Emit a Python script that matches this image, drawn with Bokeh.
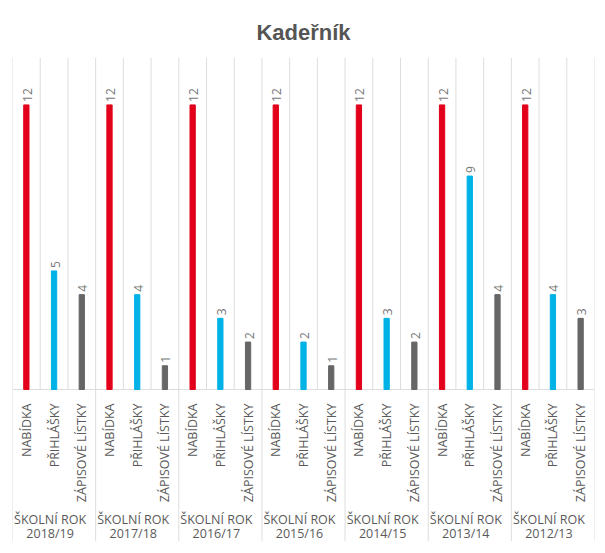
from math import pi
from bokeh.plotting import figure
from bokeh.models import FactorRange, ColumnDataSource, Range1d
from bokeh.core.properties import value
from bokeh.embed import file_html
from bokeh.resources import INLINE

title = "Kadeřník"
years = ["2018/19", "2017/18", "2016/17", "2015/16", "2014/15", "2013/14", "2012/13"]
categories = ["NABÍDKA", "PŘIHLÁŠKY", "ZÁPISOVÉ LÍSTKY"]
nabidka = [12, 12, 12, 12, 12, 12, 12]
prihlasky = [5, 4, 3, 2, 3, 9, 4]
zapisove = [4, 1, 2, 1, 2, 4, 3]
group_prefix = "ŠKOLNÍ ROK"
colors = ["#e2001a", "#00b2e6", "#666666"]

factors = [(y, c) for y in years for c in categories]
vals = []
cols = []
for i in range(len(years)):
    for j, series in enumerate([nabidka, prihlasky, zapisove]):
        vals.append(series[i])
        cols.append(colors[j])

ymin = -6.41
p = figure(x_range=FactorRange(*factors, factor_padding=0, group_padding=0, subgroup_padding=0, range_padding=0),
           y_range=Range1d(ymin, 14),
           width=597, height=541, output_backend="svg", toolbar_location=None,
           x_axis_location=None, y_axis_location=None,
           min_border_left=12, min_border_right=3, min_border_top=57, min_border_bottom=0)
p.outline_line_color = None
p.xgrid.visible = False
p.ygrid.visible = False
p.title.text = title
p.title.align = "center"
p.title.text_font = "Liberation Sans"
p.title.text_font_size = "22px"
p.title.text_font_style = "bold"
p.title.text_color = "#555555"
p.title.standoff = 25

n = len(factors)
# grid lines at category boundaries
bx = list(range(n + 1))
inner = [b for b in bx if b % 3 != 0]
outer = [b for b in bx if b % 3 == 0]
p.segment(x0=inner, x1=inner, y0=[0] * len(inner), y1=[14] * len(inner), line_color="#dddddd", line_width=1)
p.segment(x0=outer, x1=outer, y0=[ymin] * len(outer), y1=[14] * len(outer), line_color="#dddddd", line_width=1)
p.segment(x0=[0], x1=[n], y0=[0], y1=[0], line_color="#dddddd", line_width=1)

src = ColumnDataSource(dict(x=factors, top=vals, color=cols, label=[str(v) for v in vals],
                            cat=[f[1] for f in factors]))
p.vbar(x="x", top="top", width=0.19, color="color", source=src)
p.text(x="x", y="top", text="label", source=src, angle=pi / 2, text_align="left", text_baseline="middle",
       y_offset=-3, x_offset=1, text_font=value("Open Sans"), text_font_size="12px", text_color="#777777")
p.text(x="x", y=0, text="cat", source=src, angle=pi / 2, text_align="right", text_baseline="middle",
       y_offset=14, x_offset=0, text_font=value("Open Sans"), text_font_size="12.5px", text_color="#5a5a5a")

gsrc = ColumnDataSource(dict(x=[(y, categories[1]) for y in years], a=[group_prefix] * len(years), b=years))
p.text(x="x", y=0, text="a", source=gsrc, text_align="center", text_baseline="middle",
       y_offset=130, x_offset=-4, text_font=value("Open Sans"), text_font_size="12.5px", text_color="#5a5a5a")
p.text(x="x", y=0, text="b", source=gsrc, text_align="center", text_baseline="middle",
       y_offset=144, x_offset=-4, text_font=value("Open Sans"), text_font_size="12.5px", text_color="#5a5a5a")

open("out.html", "w").write(file_html(p, INLINE))
